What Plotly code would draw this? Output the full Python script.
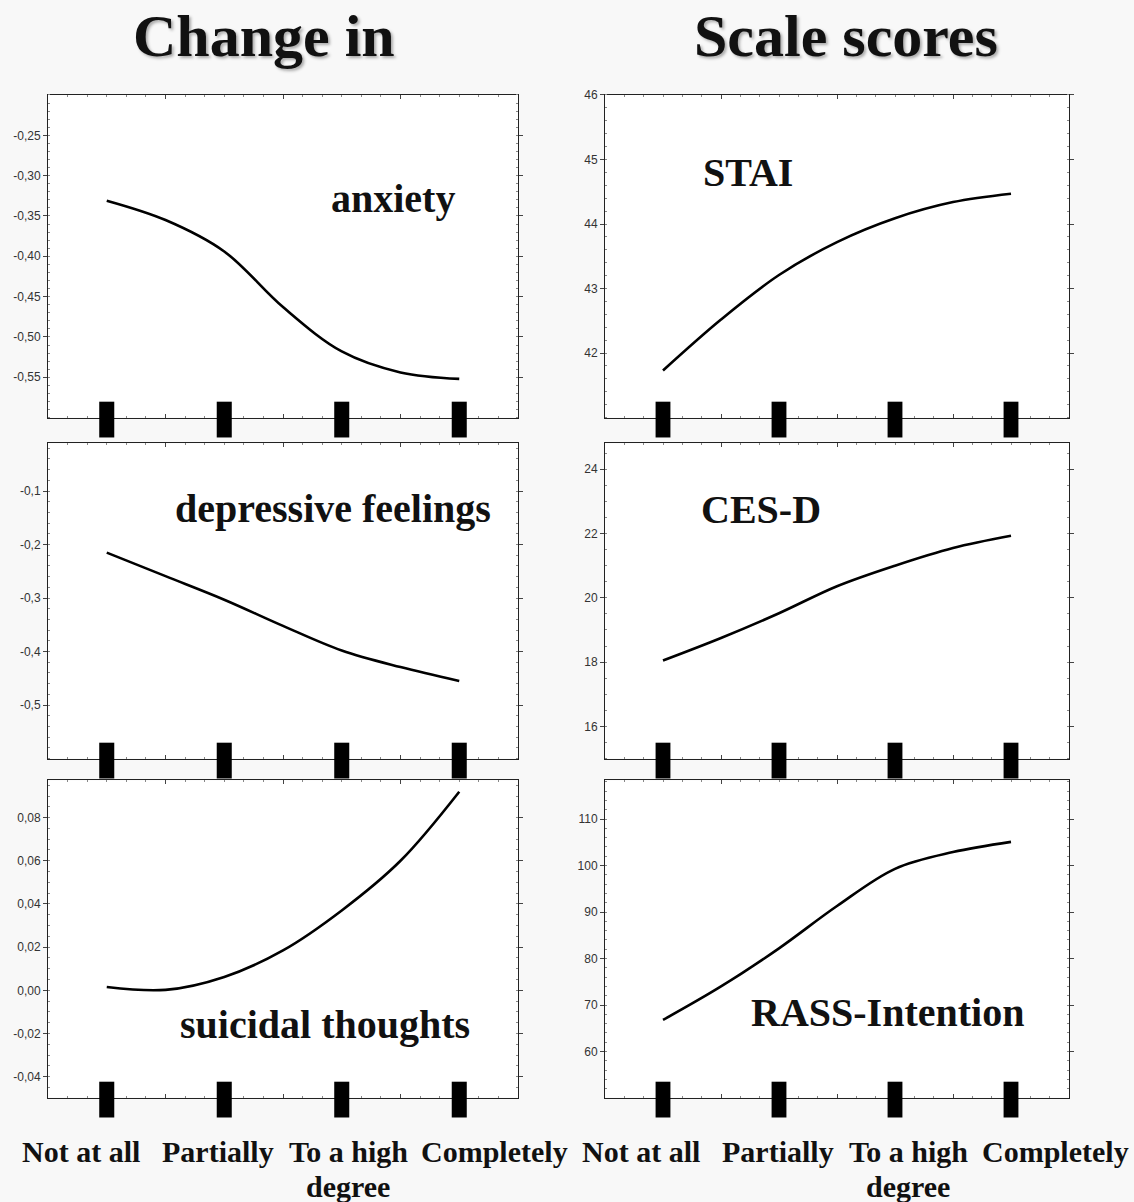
import plotly.graph_objects as go

# ---------------- data ----------------
categories = ["Not at all", "Partially", "To a high<br>degree", "Completely"]
cat_pos = [1, 2, 3, 4]
x_curve = [1, 1.5, 2, 2.5, 3, 3.5, 4]

anxiety = [-0.331, -0.355, -0.394, -0.463, -0.518, -0.544, -0.552]
depressive = [-0.215, -0.259, -0.303, -0.352, -0.398, -0.429, -0.455]
suicidal = [0.0015, 0.0002, 0.0062, 0.0185, 0.037, 0.060, 0.092]
stai = [41.73, 42.52, 43.21, 43.72, 44.09, 44.34, 44.47]
cesd = [18.05, 18.75, 19.52, 20.36, 21.0, 21.55, 21.93]
rass = [66.8, 74.0, 82.2, 91.3, 99.3, 102.9, 105.1]

series = [anxiety, stai, depressive, cesd, suicidal, rass]
panel_labels = ["anxiety", "STAI", "depressive feelings", "CES-D",
                "suicidal thoughts", "RASS-Intention"]
tick_values = [
    [-0.55, -0.50, -0.45, -0.40, -0.35, -0.30, -0.25],
    [42, 43, 44, 45, 46],
    [-0.5, -0.4, -0.3, -0.2, -0.1],
    [16, 18, 20, 22, 24],
    [-0.04, -0.02, 0.00, 0.02, 0.04, 0.06, 0.08],
    [60, 70, 80, 90, 100, 110],
]
y_ranges = [[-0.60, -0.20], [41, 46], [-0.60, -0.011], [15, 24.8],
            [-0.0497, 0.0972], [50.1, 118.3]]
tick_decimals = [2, 0, 1, 0, 2, 0]
minor_dticks = [0.01, 0.2, 0.02, 0.5, 0.005, 2]
col_titles = ["Change in", "Scale scores"]


def fmt_tick(v, d):
    # hyphen minus and decimal comma, as in the original
    return f"{v:.{d}f}".replace(".", ",")


# ---------------- layout geometry ----------------
W, H = 1134, 1202
col_px = [(48, 518), (605, 1069)]
row_px = [(88.5, 413), (439, 756), (778, 1097)]

fig = go.Figure()

serif = "Liberation Serif, Times New Roman, serif"
shapes = []
annotations = []

for i, ys in enumerate(series):
    r, c = divmod(i, 2)
    n = i + 1
    xa = "x" if n == 1 else f"x{n}"
    ya = "y" if n == 1 else f"y{n}"
    fig.add_trace(go.Scatter(
        x=x_curve, y=ys, mode="lines",
        line=dict(color="black", width=2.6, shape="spline", smoothing=1.0),
        xaxis=xa, yaxis=ya, showlegend=False, hoverinfo="skip"))

    x0p, x1p = col_px[c]
    y0p, y1p = row_px[r]
    xdom = [x0p / W, x1p / W]
    ydom = [1 - y1p / H, 1 - y0p / H]
    h_px = y1p - y0p
    axis_common = dict(
        showline=True, linecolor="#222", linewidth=1, mirror="ticks",
        showgrid=False, zeroline=False,
    )
    fig.layout[f"xaxis{'' if n == 1 else n}"] = dict(
        domain=xdom, range=[0.5, 4.5], anchor=ya,
        tickvals=[1.5, 2.5, 3.5], ticks="inside", ticklen=4, tickcolor="#444",
        showticklabels=False,
        minor=dict(dtick=0.1667, tick0=0.5, ticks="inside", ticklen=2, tickcolor="#888"),
        **axis_common)
    fig.layout[f"yaxis{'' if n == 1 else n}"] = dict(
        domain=ydom, range=y_ranges[i], anchor=xa,
        tickvals=tick_values[i],
        ticktext=[fmt_tick(v, tick_decimals[i]) for v in tick_values[i]],
        ticks="outside", ticklen=4, tickcolor="#444",
        tickfont=dict(family="Liberation Sans, Arial, sans-serif", size=12, color="#333"),
        minor=dict(dtick=minor_dticks[i], ticks="inside", ticklen=2, tickcolor="#888"),
        **axis_common)

    # black category markers straddling the bottom axis
    for p in cat_pos:
        shapes.append(dict(
            type="rect", xref=xa, yref=f"{ya} domain",
            x0=p - 0.064, x1=p + 0.064,
            y0=-20 / h_px, y1=16 / h_px,
            fillcolor="black", line=dict(width=0), layer="above"))

# panel labels
label_px = [(393, 193), (748, 166), (333, 504), (761, 505), (325, 1023), (887, 1011)]
for txt, (lx, ly) in zip(panel_labels, label_px):
    annotations.append(dict(
        text=txt, x=lx / W, y=1 - ly / H, xref="paper", yref="paper",
        xanchor="center", yanchor="middle", showarrow=False,
        font=dict(family=serif, size=40, color="#111", weight="bold")))

# column titles
for txt, tx in zip(col_titles, [264, 846]):
    annotations.append(dict(
        text=txt, x=tx / W, y=1 - 29 / H, xref="paper", yref="paper",
        xanchor="center", yanchor="middle", showarrow=False,
        font=dict(family=serif, size=60, color="#111", weight="bold",
                  shadow="2px 2px 3px #aaaaaa")))

# category labels under each column (each line placed separately, tight spacing)
cat_label_px = [[81, 218, 348, 494], [641, 778, 908, 1055]]
for col in cat_label_px:
    for txt, cx in zip(categories, col):
        for k, line in enumerate(txt.split("<br>")):
            annotations.append(dict(
                text=line, x=cx / W, y=1 - (1151 + 35 * k) / H,
                xref="paper", yref="paper",
                xanchor="center", yanchor="middle", showarrow=False,
                font=dict(family=serif, size=30, color="#111", weight="bold")))

fig.update_layout(
    width=W, height=H, margin=dict(l=0, r=0, t=0, b=0),
    paper_bgcolor="#f8f8f8", plot_bgcolor="white",
    separators=",.", shapes=shapes, annotations=annotations,
)

fig.write_html("out.html", config={"displayModeBar": False},
               post_script="document.body.style.margin='0px';document.body.style.overflow='hidden';")
